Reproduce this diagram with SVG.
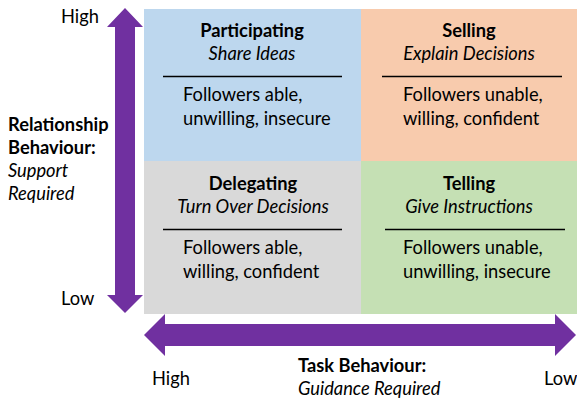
<svg xmlns="http://www.w3.org/2000/svg" width="577" height="400" viewBox="0 0 577 400">
<style>
text{font-family:Lato,"Liberation Sans",sans-serif;font-size:18.3px;fill:#000}
.b{font-weight:bold}
.i{font-style:italic}
.c{text-anchor:middle}
.sep{stroke:#000;stroke-width:1.3}
.arr{fill:#7030A0}
</style>
<rect width="577" height="400" fill="#fff"/>
<g id="participating">
<rect x="144" y="9" width="217" height="152" fill="#BDD7EE"/>
<text class="b c" x="252" y="37">Participating</text>
<text class="i c" x="252" y="60">Share Ideas</text>
<line class="sep" x1="163" y1="76.5" x2="342" y2="76.5"/>
<text x="183" y="101">Followers able,</text>
<text x="183" y="125">unwilling, insecure</text>
</g>
<g id="selling">
<rect x="361" y="9" width="216" height="152" fill="#F8CBAD"/>
<text class="b c" x="469" y="37">Selling</text>
<text class="i c" x="469" y="60">Explain Decisions</text>
<line class="sep" x1="382" y1="76.5" x2="562" y2="76.5"/>
<text x="403" y="101">Followers unable,</text>
<text x="403" y="125">willing, confident</text>
</g>
<g id="delegating">
<rect x="144" y="161" width="217" height="153" fill="#D9D9D9"/>
<text class="b c" x="253" y="190">Delegating</text>
<text class="i c" x="253" y="213">Turn Over Decisions</text>
<line class="sep" x1="163" y1="229.5" x2="342" y2="229.5"/>
<text x="183" y="254">Followers able,</text>
<text x="183" y="278">willing, confident</text>
</g>
<g id="telling">
<rect x="361" y="161" width="216" height="153" fill="#C5E0B4"/>
<text class="b c" x="469" y="190">Telling</text>
<text class="i c" x="469" y="213">Give Instructions</text>
<line class="sep" x1="385" y1="229.5" x2="565" y2="229.5"/>
<text x="403" y="254">Followers unable,</text>
<text x="403" y="278">unwilling, insecure</text>
</g>
<g id="connectors">
<path class="arr" d="M125,8 L143,27 L135,27 L135,295 L143,295 L125,313 L107,295 L115,295 L115,27 L107,27 Z"/>
<path class="arr" d="M144,335 L165,314 L165,324 L555,324 L555,314 L576,335 L555,356 L555,346 L165,346 L165,356 Z"/>
</g>
<g id="axis-labels">
<text x="61" y="23">High</text>
<text x="61" y="305">Low</text>
<text class="b" x="8" y="131">Relationship</text>
<text class="b" x="8" y="154">Behaviour:</text>
<text class="i" x="8" y="177">Support</text>
<text class="i" x="8" y="200">Required</text>
<text x="152" y="385">High</text>
<text class="b" x="298" y="372">Task Behaviour:</text>
<text class="i" x="298" y="395">Guidance Required</text>
<text x="544" y="385">Low</text>
</g>
</svg>
